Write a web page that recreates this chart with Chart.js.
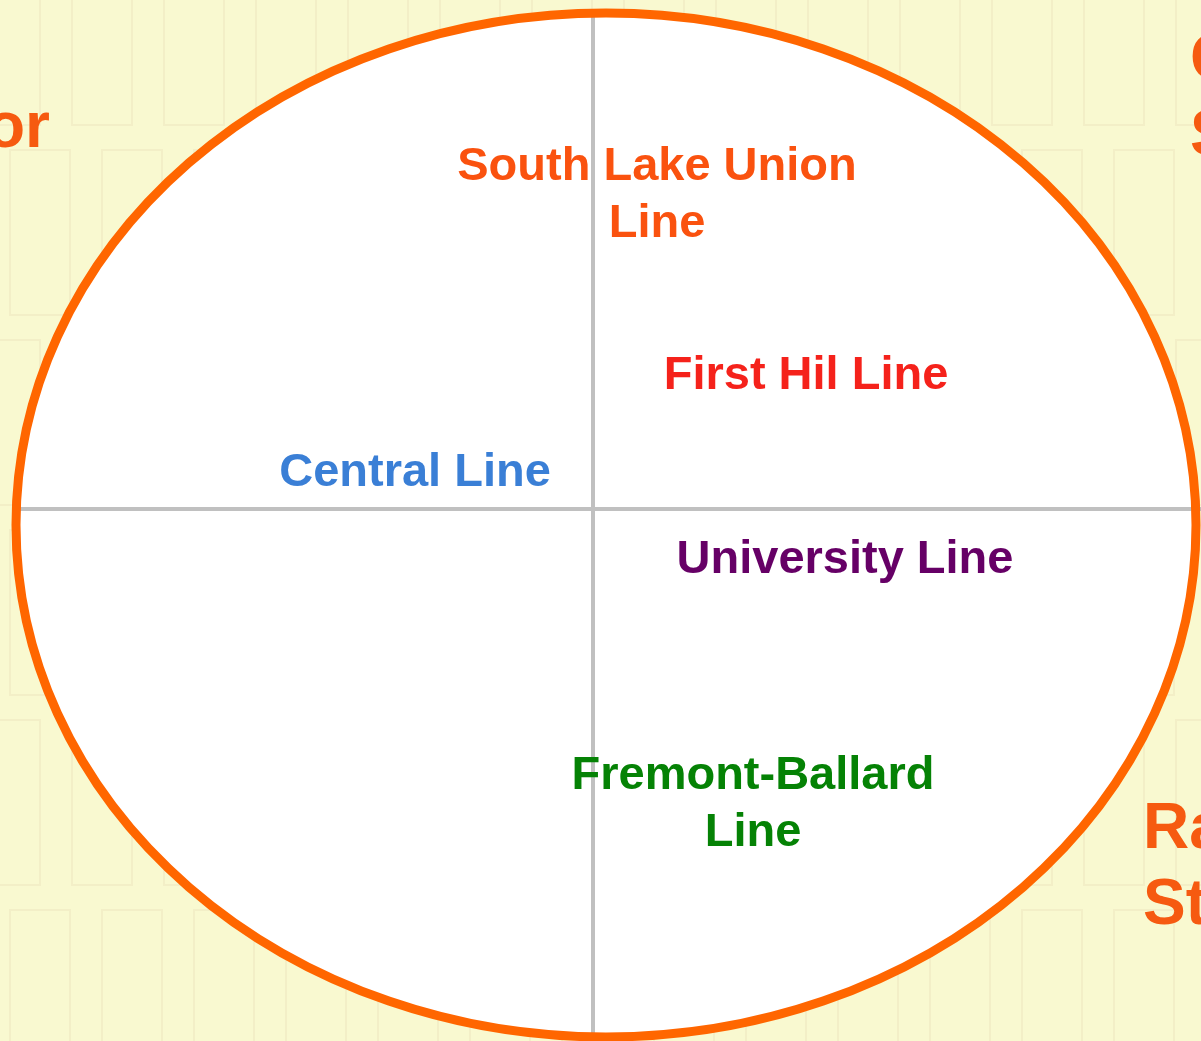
<!DOCTYPE html>
<html>
<head>
<meta charset="utf-8">
<script src="https://cdn.jsdelivr.net/npm/chart.js@4"></script>
<style>
  html, body { margin: 0; padding: 0; background: #f9f9d0; overflow: hidden; }
  #wrap { width: 1201px; height: 1041px; position: relative; }
</style>
</head>
<body>
<div id="wrap"><canvas id="quadChart"></canvas></div>
<script>
// Line names and where they sit in the quadrant (units ~ 100px)
const lineNames = [["South Lake Union", "Line"], ["First Hil Line"], ["Central Line"], ["University Line"], ["Fremont-Ballard", "Line"]];
const lineX = [0.64, 2.13, -1.78, 2.52, 1.60];
const lineY = [3.13, 1.33, 0.36, -0.51, -2.96];
const lineColors = ["#fa520f", "#f5221b", "#3a7fd6", "#660066", "#058205"];

// Clipped captions at the page edges
const edgeNames = [["or"], ["C", "S"], ["Ra", "St"]];
const edgeX = [-5.43, 5.97, 5.50];
const edgeY = [3.80, 4.10, -3.59];
const edgeAlign = ["right", "left", "left"];

// Ellipse frame
const ring = { cx: 0.13, cy: -0.16, rx: 5.90, ry: 5.12 };

const fontFamily = '"Liberation Sans", Arial, sans-serif';

const quadPlugin = {
  id: "quadPlugin",
  beforeDatasetsDraw(chart) {
    const { ctx, scales: { x, y } } = chart;
    const W = chart.width, H = chart.height;
    ctx.save();
    // pale map background
    ctx.fillStyle = "#f9f9d0";
    ctx.fillRect(0, 0, W, H);
    ctx.strokeStyle = "rgba(225,205,170,0.22)";
    ctx.lineWidth = 2;
    for (let r = 0; r < 6; r++) {
      for (let c = 0; c < 14; c++) {
        const bx = c * 92 - 20 + (r % 2) * 30;
        const by = r * 190 - 40;
        ctx.strokeRect(bx, by, 60, 165);
      }
    }
    // ellipse fill
    const cx = x.getPixelForValue(ring.cx), cy = y.getPixelForValue(ring.cy);
    const rx = x.getPixelForValue(ring.cx + ring.rx) - cx;
    const ry = cy - y.getPixelForValue(ring.cy + ring.ry);
    ctx.beginPath();
    ctx.ellipse(cx, cy, rx, ry, 0, 0, Math.PI * 2);
    ctx.fillStyle = "#ffffff";
    ctx.fill();
    // crosshair axes, clipped to the ring
    const dy = ring.ry * Math.sqrt(1 - Math.pow(ring.cx / ring.rx, 2));
    const dx = ring.rx * Math.sqrt(1 - Math.pow(ring.cy / ring.ry, 2));
    ctx.strokeStyle = "#c0c0c0";
    ctx.lineWidth = 4;
    ctx.beginPath();
    ctx.moveTo(x.getPixelForValue(0), y.getPixelForValue(ring.cy + dy));
    ctx.lineTo(x.getPixelForValue(0), y.getPixelForValue(ring.cy - dy));
    ctx.moveTo(x.getPixelForValue(ring.cx - dx), y.getPixelForValue(0));
    ctx.lineTo(W, y.getPixelForValue(0));
    ctx.stroke();
    // ring outline
    ctx.beginPath();
    ctx.ellipse(cx, cy, rx, ry, 0, 0, Math.PI * 2);
    ctx.strokeStyle = "#ff6600";
    ctx.lineWidth = 9;
    ctx.stroke();
    ctx.restore();
  },
  afterDatasetsDraw(chart) {
    const { ctx } = chart;
    ctx.save();
    ctx.textBaseline = "middle";
    // line labels from the dataset points
    const meta = chart.getDatasetMeta(0);
    meta.data.forEach((pt, i) => {
      const rows = lineNames[i];
      ctx.font = "bold 47px " + fontFamily;
      ctx.fillStyle = lineColors[i];
      ctx.textAlign = "center";
      rows.forEach((t, k) => {
        ctx.fillText(t, pt.x, pt.y + (k - (rows.length - 1) / 2) * 57);
      });
    });
    // edge captions
    const meta2 = chart.getDatasetMeta(1);
    meta2.data.forEach((pt, i) => {
      const rows = edgeNames[i];
      ctx.font = "bold 64px " + fontFamily;
      ctx.fillStyle = "#f65a10";
      ctx.textAlign = edgeAlign[i];
      rows.forEach((t, k) => {
        ctx.fillText(t, pt.x, pt.y + (k - (rows.length - 1) / 2) * 76);
      });
    });
    ctx.restore();
  }
};

new Chart(document.getElementById("quadChart"), {
  type: "scatter",
  data: {
    datasets: [
      {
        label: "Lines",
        data: lineX.map((v, i) => ({ x: v, y: lineY[i] })),
        pointRadius: 0
      },
      {
        label: "Edge",
        data: edgeX.map((v, i) => ({ x: v, y: edgeY[i] })),
        pointRadius: 0
      }
    ]
  },
  options: {
    responsive: true,
    maintainAspectRatio: false,
    animation: false,
    layout: { padding: 0 },
    plugins: { legend: { display: false }, tooltip: { enabled: false } },
    scales: {
      x: { type: "linear", min: -5.93, max: 6.08, display: false },
      y: { type: "linear", min: -5.32, max: 5.09, display: false }
    }
  },
  plugins: [quadPlugin]
});
</script>
</body>
</html>
